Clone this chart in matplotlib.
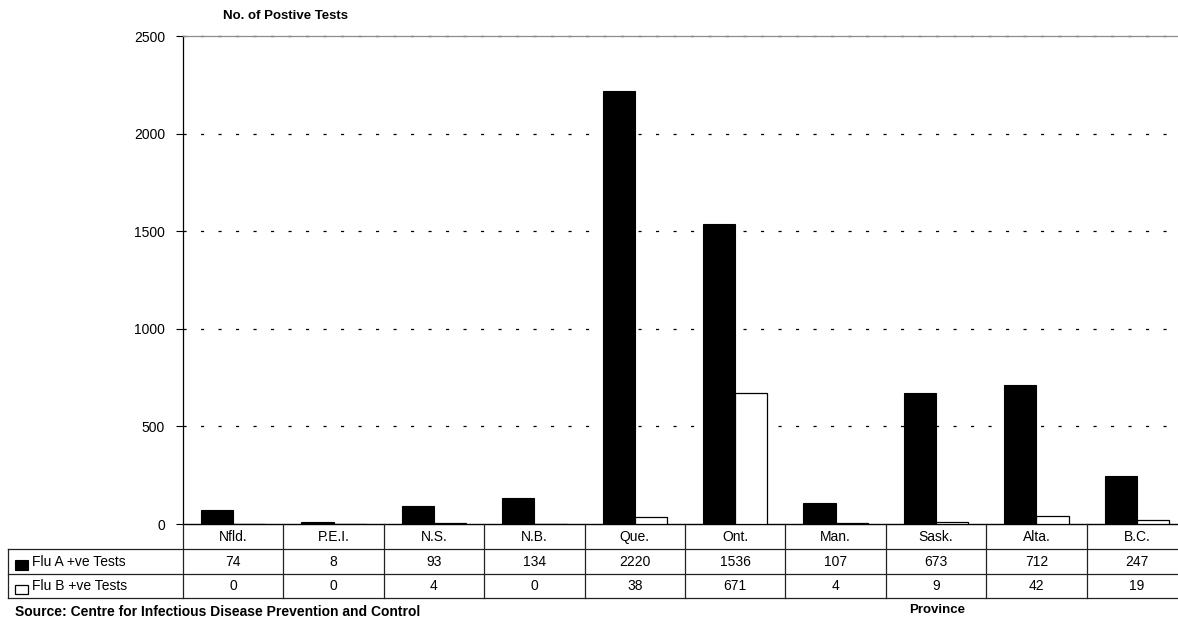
import matplotlib
matplotlib.use("Agg")
import matplotlib.pyplot as plt
import numpy as np
from matplotlib.patches import Rectangle
from matplotlib.lines import Line2D
from matplotlib.transforms import Affine2D, blended_transform_factory

provinces = ["Nfld.", "P.E.I.", "N.S.", "N.B.", "Que.", "Ont.", "Man.", "Sask.", "Alta.", "B.C."]
flu_a = [74, 8, 93, 134, 2220, 1536, 107, 673, 712, 247]
flu_b = [0, 0, 4, 0, 38, 671, 4, 9, 42, 19]
series_labels = ["Flu A +ve Tests", "Flu B +ve Tests"]
y_ticks = [0, 500, 1000, 1500, 2000, 2500]

W, H = 1178, 620
plt.rcParams['font.family'] = ['Liberation Sans', 'DejaVu Sans']

fig = plt.figure(figsize=(W / 100, H / 100), dpi=100)
px = Affine2D().scale(1 / W, -1 / H).translate(0, 1) + fig.transFigure

# plot area in pixel units (the right edge runs past the page)
ax_left, ax_right, ax_top, ax_bottom = 183, 1187, 36, 524
ax = fig.add_axes([ax_left / W, 1 - ax_bottom / H,
                   (ax_right - ax_left) / W, (ax_bottom - ax_top) / H])

x = np.arange(len(provinces))
bw = 0.32
ax.bar(x - bw / 2, flu_a, bw, color='black', edgecolor='black', linewidth=0.8, zorder=3)
ax.bar(x + bw / 2, flu_b, bw, color='white', edgecolor='black', linewidth=0.9, zorder=3)
ax.set_xlim(-0.5, len(provinces) - 0.5)
ax.set_ylim(0, 2500)
ax.set_xticks([])
ax.set_yticks(y_ticks)
ax.set_yticklabels([str(v) for v in y_ticks], fontsize=10)
ax.tick_params(axis='y', direction='out', length=5, width=0.8, pad=8, color='black')

for v in y_ticks[1:]:
    ax.axhline(v, color='black', lw=0.9, linestyle=(0, (2.5, 11.5)), zorder=2, clip_on=False)

ax.spines['top'].set_color('#8c8c8c')
ax.spines['top'].set_linewidth(0.9)
ax.spines['right'].set_visible(False)
ax.spines['left'].set_linewidth(0.9)
ax.spines['bottom'].set_linewidth(1.0)

# data table below the axis
row_top, row_a, row_b, row_end = 524, 549, 574, 598
tbl_left = 8
lc = '#222222'
lw = 0.9
fs = 10
xblend = blended_transform_factory(ax.transData, px)

for yy in (row_a, row_b, row_end):
    fig.add_artist(Line2D([tbl_left, ax_right], [yy, yy], transform=px, color=lc, lw=lw))
fig.add_artist(Line2D([tbl_left, tbl_left], [row_a, row_end], transform=px, color=lc, lw=lw))
for b in np.arange(-0.5, len(provinces), 1.0):
    fig.add_artist(Line2D([b, b], [row_top, row_end], transform=xblend, color=lc, lw=lw))

for i, name in enumerate(provinces):
    fig.text(i, (row_top + row_a) / 2 + 0.5, name, transform=xblend,
             ha='center', va='center', fontsize=fs)
    fig.text(i, (row_a + row_b) / 2 + 0.5, str(flu_a[i]), transform=xblend,
             ha='center', va='center', fontsize=fs)
    fig.text(i, (row_b + row_end) / 2 + 0.5, str(flu_b[i]), transform=xblend,
             ha='center', va='center', fontsize=fs)

# legend keys in the label column
fig.add_artist(Rectangle((15, 560), 13, 10, transform=px, facecolor='black',
                         edgecolor='black', lw=0.8))
fig.add_artist(Rectangle((15, 585), 13, 9, transform=px, facecolor='white',
                         edgecolor='black', lw=0.9))
fig.text(32, (row_a + row_b) / 2 + 0.5, series_labels[0], transform=px,
         ha='left', va='center', fontsize=fs)
fig.text(32, (row_b + row_end) / 2 + 0.5, series_labels[1], transform=px,
         ha='left', va='center', fontsize=fs)

# titles and source
fig.text(223, 16, "No. of Postive Tests", transform=px, ha='left', va='center',
         fontsize=9.5, fontweight='bold')
fig.text(937, 604, "Province", transform=px, ha='center', va='top',
         fontsize=9.5, fontweight='bold')
fig.text(420, 605, "Source: Centre for Infectious Disease Prevention and Control",
         transform=px, ha='right', va='top', fontsize=10, fontweight='bold')

fig.savefig("out.png", dpi=100)
